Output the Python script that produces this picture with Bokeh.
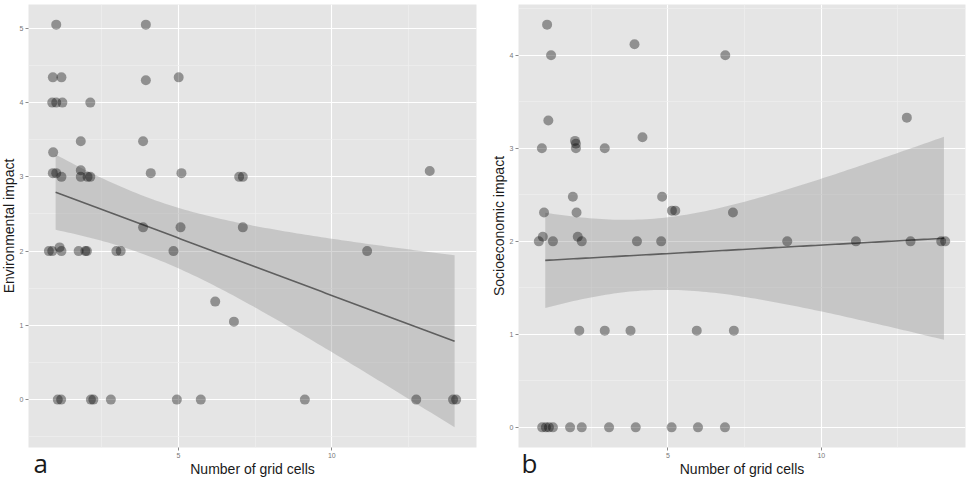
import numpy as np
from bokeh.plotting import figure
from bokeh.models import FixedTicker, Range1d, Title
from bokeh.layouts import row
from bokeh.embed import file_html
from bokeh.resources import INLINE

# ---- data (jittered points as plotted) ----
env_x = [1.02, 3.94,
         0.91, 1.19, 5.01, 3.94,
         0.89, 1.02, 1.22, 2.13,
         1.82, 3.85,
         0.92,
         1.82, 13.19,
         0.91, 1.02, 4.10, 5.10,
         1.19, 1.82, 2.04, 2.13, 6.98, 7.10,
         3.85, 5.07, 7.10,
         1.13,
         0.78, 0.89, 1.19, 1.75, 1.97, 2.02, 2.98, 3.12, 4.84, 11.15,
         6.20,
         6.81,
         1.07, 1.18, 2.15, 2.23, 2.80, 4.95, 5.73, 9.12, 12.75, 13.95, 14.05]
env_y = [5.05, 5.05,
         4.34, 4.34, 4.34, 4.30,
         4.00, 4.00, 4.00, 4.00,
         3.48, 3.48,
         3.33,
         3.09, 3.08,
         3.05, 3.05, 3.05, 3.05,
         3.00, 3.00, 3.00, 3.00, 3.00, 3.00,
         2.32, 2.32, 2.32,
         2.05,
         2.00, 2.00, 2.00, 2.00, 2.00, 2.00, 2.00, 2.00, 2.00, 2.00,
         1.32,
         1.05,
         0, 0, 0, 0, 0, 0, 0, 0, 0, 0, 0]

soc_x = [1.06, 3.91, 1.19, 6.87,
         12.79, 1.10, 4.17, 1.97, 2.00,
         0.89, 2.00, 2.94,
         1.90, 4.81,
         5.13, 5.24,
         0.96, 2.02, 7.12,
         0.92, 2.06,
         0.79, 1.25, 2.19, 3.99, 4.78, 8.89, 11.13, 12.91, 13.91, 14.04,
         2.11, 2.94, 3.78, 5.94, 7.15,
         0.90, 1.02, 1.12, 1.25, 1.81, 2.19, 3.08, 3.95, 5.12, 5.98, 6.86]
soc_y = [4.33, 4.12, 4.00, 4.00,
         3.33, 3.30, 3.12, 3.08, 3.05,
         3.00, 3.00, 3.00,
         2.48, 2.48,
         2.33, 2.33,
         2.31, 2.31, 2.31,
         2.05, 2.05,
         2.00, 2.00, 2.00, 2.00, 2.00, 2.00, 2.00, 2.00, 2.00, 2.00,
         1.04, 1.04, 1.04, 1.04, 1.04,
         0, 0, 0, 0, 0, 0, 0, 0, 0, 0, 0]

x_ticks = [5, 10]
x_minor = [2.5, 7.5, 12.5]
env_y_ticks = [0, 1, 2, 3, 4, 5]
env_y_minor = [-0.5, 0.5, 1.5, 2.5, 3.5, 4.5]
soc_y_ticks = [0, 1, 2, 3, 4]
soc_y_minor = [0.5, 1.5, 2.5, 3.5, 4.5]

X_TITLE = "Number of grid cells"
H = 479


def lm_band(x, y, n=100):
    """Linear fit with 95% confidence band (like geom_smooth(method='lm'))."""
    x = np.asarray(x, float)
    y = np.asarray(y, float)
    m = len(x)
    b, a = np.polyfit(x, y, 1)
    xs = np.linspace(np.round(x.min()), np.round(x.max()), n)
    fit = a + b * xs
    resid = y - (a + b * x)
    df = m - 2
    s = np.sqrt(np.sum(resid ** 2) / df)
    sxx = np.sum((x - x.mean()) ** 2)
    se = s * np.sqrt(1.0 / m + (xs - x.mean()) ** 2 / sxx)
    z = 1.959964
    t = z + (z ** 3 + z) / (4 * df) + (5 * z ** 5 + 16 * z ** 3 + 3 * z) / (96 * df ** 2)
    return xs, fit, fit - t * se, fit + t * se


def panel(xv, yv, ylabel, yticks, yminor, letter, width, border_right, tag_offset):
    xs, fit, lo, hi = lm_band(xv, yv)
    xmin, xmax = min(xv), max(xv)
    dx = (xmax - xmin) * 0.05
    ymin = min(min(yv), lo.min())
    ymax = max(max(yv), hi.max())
    dy = (ymax - ymin) * 0.05
    p = figure(width=width, height=H, output_backend="svg", toolbar_location=None,
               x_range=Range1d(xmin - dx, xmax + dx), y_range=Range1d(ymin - dy, ymax + dy),
               min_border_left=5, min_border_right=border_right,
               min_border_top=4, min_border_bottom=5)
    p.background_fill_color = "#E5E5E5"
    p.border_fill_color = "white"
    p.outline_line_color = None

    p.xaxis.ticker = FixedTicker(ticks=x_ticks, minor_ticks=x_minor)
    p.yaxis.ticker = FixedTicker(ticks=yticks, minor_ticks=yminor)
    for ax in (p.xaxis[0], p.yaxis[0]):
        ax.axis_line_color = None
        ax.major_tick_line_color = "#8a8a8a"
        ax.major_tick_out = 3
        ax.major_tick_in = 0
        ax.minor_tick_line_color = None
        ax.major_label_text_font = "Liberation Sans"
        ax.major_label_text_font_size = "7px"
        ax.major_label_text_color = "#777777"
        ax.major_label_standoff = 1
        ax.axis_label_text_font = "Liberation Sans"
        ax.axis_label_text_font_size = "14px"
        ax.axis_label_text_font_style = "normal"
        ax.axis_label_text_color = "#1a1a1a"
        ax.axis_label_standoff = 0
    p.xaxis.axis_label = X_TITLE
    p.yaxis.axis_label = ylabel

    p.xgrid.grid_line_color = "white"
    p.ygrid.grid_line_color = "white"
    p.xgrid.grid_line_width = 1.1
    p.ygrid.grid_line_width = 1.1
    p.xgrid.minor_grid_line_color = "#EFEFEF"
    p.ygrid.minor_grid_line_color = "#EFEFEF"
    p.xgrid.minor_grid_line_width = 0.7
    p.ygrid.minor_grid_line_width = 0.7

    p.varea(x=xs, y1=lo, y2=hi, fill_color="#999999", fill_alpha=0.4)
    p.line(xs, fit, line_color="#5f5f5f", line_width=1.6)
    p.scatter(xv, yv, size=10, fill_color="black", fill_alpha=0.37, line_color=None)

    # panel letter, drawn in a collapsed strip right under the frame
    tag = Title(text=letter, align="left", vertical_align="bottom", standoff=-66,
                offset=tag_offset, text_font="Open Sans", text_font_size="26px",
                text_font_style="normal", text_color="#1a1a1a")
    p.below.insert(0, tag)
    return p


p1 = panel(env_x, env_y, "Environmental impact", env_y_ticks, env_y_minor, "a", 490, 11, 5)
p2 = panel(soc_x, soc_y, "Socioeconomic impact", soc_y_ticks, soc_y_minor, "b", 481, 3, 3)
p1.margin = (0, 0, 0, -3)

layout = row(p1, p2)
open("out.html", "w").write(file_html(layout, INLINE))
